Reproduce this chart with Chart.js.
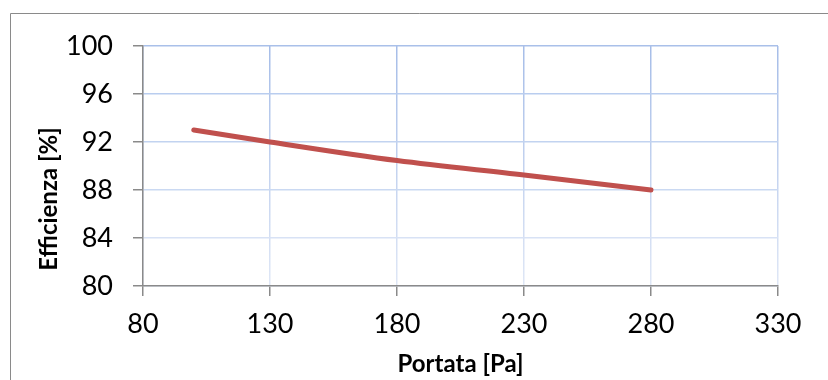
<!DOCTYPE html>
<html>
<head>
<meta charset="utf-8">
<script src="https://cdn.jsdelivr.net/npm/chart.js@4"></script>
<style>
  html, body { margin: 0; padding: 0; background: #ffffff; }
  #wrap { width: 828px; height: 380px; position: relative; }
</style>
</head>
<body>
<div id="wrap"><canvas id="chart" width="828" height="380"></canvas></div>
<script>
// Efficiency curve versus flow
const portata = [100, 130, 180, 230, 280];
const efficienza = [93.0, 92.0, 90.45, 89.25, 88.0];
const xTicks = [80, 130, 180, 230, 280, 330];
const yTicks = [80, 84, 88, 92, 96, 100];

const xTitle = 'Portata [Pa]';
const yTitle = 'Efficienza [%]';

const FONT = 'Lato, Carlito, Calibri, sans-serif';

// horizontal grid lines get slightly lighter toward the bottom
const yGridColors = {
  100: '#a9c0e9', 96: '#b9cdef', 92: '#c2d3f0', 88: '#cad9f2', 84: '#d8e2f5', 80: '#d8e2f5'
};

// outer frame and the two axis titles
const framePlugin = {
  id: 'frame',
  beforeDraw(chart) {
    const c = chart.ctx;
    c.save();
    c.fillStyle = '#ffffff';
    c.fillRect(0, 0, chart.width, chart.height);
    c.strokeStyle = '#8a8a8a';
    c.lineWidth = 1;
    c.beginPath();
    c.moveTo(10.5, chart.height);
    c.lineTo(10.5, 13.5);
    c.lineTo(chart.width, 13.5);
    c.stroke();
    c.restore();
  },
  afterDraw(chart) {
    const c = chart.ctx;
    const a = chart.chartArea;
    c.save();
    c.font = 'bold 24px ' + FONT;
    c.fillStyle = '#000000';
    c.textAlign = 'center';
    c.textBaseline = 'alphabetic';
    c.fillText(xTitle, (a.left + a.right) / 2, 372);
    c.translate(57, 199);
    c.rotate(-Math.PI / 2);
    c.fillText(yTitle, 0, 0);
    c.restore();
  }
};

new Chart(document.getElementById('chart'), {
  type: 'line',
  data: {
    datasets: [{
      data: portata.map((x, i) => ({ x: x, y: efficienza[i] })),
      borderColor: '#c0504d',
      borderWidth: 5,
      borderCapStyle: 'round',
      borderJoinStyle: 'round',
      pointRadius: 0,
      cubicInterpolationMode: 'monotone',
      fill: false
    }]
  },
  options: {
    responsive: false,
    animation: false,
    layout: { padding: { left: 0, top: 46, right: 50, bottom: 0 } },
    plugins: { legend: { display: false }, tooltip: { enabled: false } },
    scales: {
      x: {
        type: 'linear',
        min: 80,
        max: 330,
        afterBuildTicks: s => { s.ticks = xTicks.map(v => ({ value: v })); },
        afterFit: s => { s.height = 94; },
        ticks: {
          color: '#000000',
          font: { family: FONT, size: 27 },
          padding: 12,
          maxRotation: 0
        },
        grid: {
          color: ctx => {
            const a = ctx.chart.chartArea;
            if (!a) return '#c5d5f0';
            const g = ctx.chart.ctx.createLinearGradient(0, a.top, 0, a.bottom);
            g.addColorStop(0, '#a6bde8');
            g.addColorStop(1, '#dfe7f6');
            return g;
          },
          lineWidth: 1.5,
          tickColor: '#8a8a8a',
          tickLength: 10
        },
        border: { color: '#8a8a8a', width: 1.5 }
      },
      y: {
        type: 'linear',
        min: 80,
        max: 100,
        afterBuildTicks: s => { s.ticks = yTicks.map(v => ({ value: v })); },
        afterFit: s => { s.width = 143; },
        ticks: {
          color: '#000000',
          font: { family: FONT, size: 27 },
          padding: 20
        },
        grid: {
          color: ctx => yGridColors[ctx.tick && ctx.tick.value] || '#c5d5f0',
          lineWidth: 1.5,
          tickColor: '#8a8a8a',
          tickLength: 10
        },
        border: { color: '#8a8a8a', width: 1.5 }
      }
    }
  },
  plugins: [framePlugin]
});
</script>
</body>
</html>
